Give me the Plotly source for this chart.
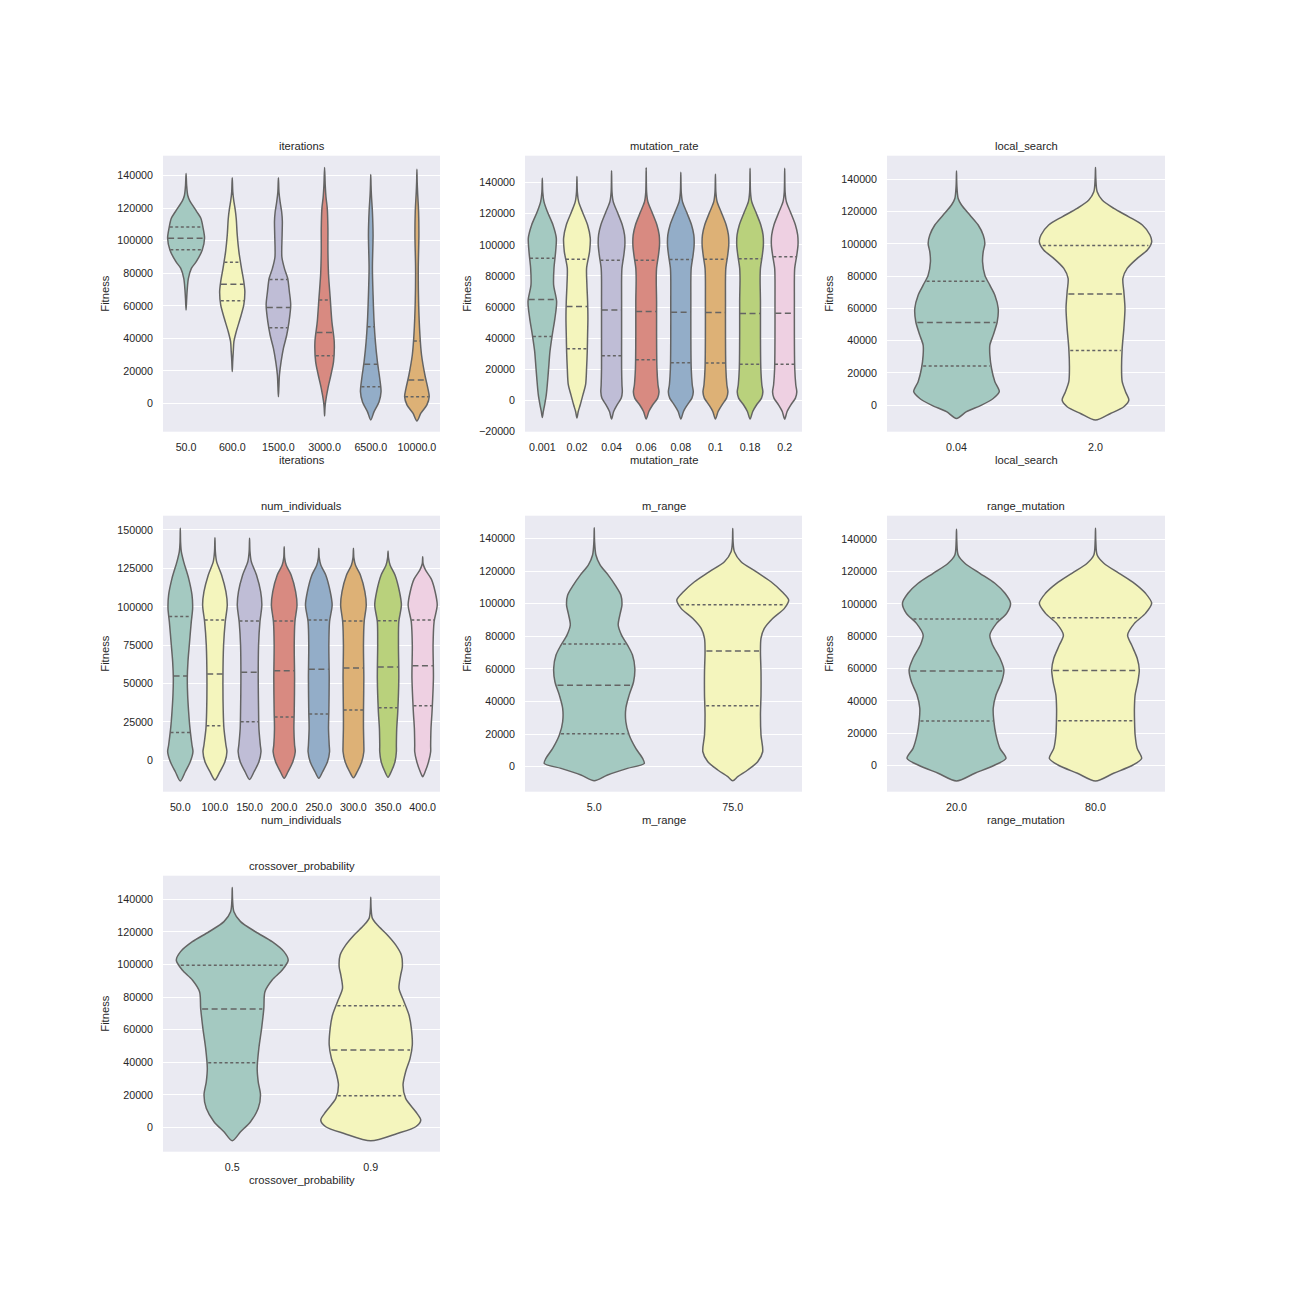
import numpy as np
import plotly.graph_objects as go

PALETTE = ["#a4c9c1", "#f4f5bd", "#bfbdd6", "#d88a81", "#93adc8", "#ddb176", "#b9d17c", "#eed0e2"]
OUTLINE = "#646464"
TEXT = "#262626"

# ---------------- iterations ----------------
ITER_CATS = ["50.0", "600.0", "1500.0", "3000.0", "6500.0", "10000.0"]
ITER_V = [
    [57400, 64000, 70000, 76900, 83000, 87100, 94300, 101500, 107600, 113800, 117500, 121000, 124500, 128000, 134000, 141400],
    [19500, 26000, 31800, 37900, 44000, 52300, 60500, 68700, 74800, 83000, 93300, 103500, 113700, 119900, 124000, 130000, 138800],
    [4100, 10000, 17400, 25600, 33800, 42000, 50200, 60500, 68700, 76900, 83000, 90000, 103500, 112000, 117800, 124000, 130000, 138800],
    [-7800, -3000, 1000, 9200, 17400, 25600, 37900, 50200, 64600, 78900, 93300, 107600, 119900, 127000, 134200, 145100],
    [-10200, -5100, 1000, 7200, 15400, 25600, 37900, 50200, 66600, 83000, 103500, 117800, 128100, 134000, 140800],
    [-10900, -6100, -1000, 4100, 9200, 17400, 29700, 42000, 62500, 83000, 103500, 117800, 130200, 136000, 143900],
]
ITER_W = [
    [0, 0.012, 0.025, 0.05, 0.115, 0.22, 0.35, 0.40, 0.37, 0.32, 0.24, 0.16, 0.08, 0.035, 0.012, 0],
    [0, 0.01, 0.022, 0.036, 0.086, 0.173, 0.25, 0.273, 0.25, 0.2, 0.144, 0.108, 0.086, 0.06, 0.036, 0.012, 0],
    [0, 0.01, 0.022, 0.058, 0.108, 0.18, 0.23, 0.266, 0.237, 0.2, 0.13, 0.075, 0.08, 0.085, 0.07, 0.036, 0.012, 0],
    [0, 0.008, 0.022, 0.072, 0.137, 0.194, 0.209, 0.158, 0.122, 0.086, 0.072, 0.072, 0.058, 0.03, 0.014, 0],
    [0, 0.072, 0.18, 0.223, 0.194, 0.144, 0.1, 0.072, 0.05, 0.036, 0.05, 0.036, 0.014, 0.006, 0],
    [0, 0.086, 0.216, 0.266, 0.237, 0.173, 0.1, 0.065, 0.036, 0.029, 0.043, 0.036, 0.014, 0.006, 0],
]
ITER_Q = [[94500, 101500, 108500], [63100, 73200, 86700], [46500, 59000, 76200],
          [29300, 43500, 63500], [10200, 24000, 47100], [4100, 14300, 38300]]
ITER_YRANGE = [-17470, 152300]
ITER_YTICKS = [0, 20000, 40000, 60000, 80000, 100000, 120000, 140000]

# ---------------- mutation_rate ----------------
MUT_CATS = ["0.001", "0.02", "0.04", "0.06", "0.08", "0.1", "0.18", "0.2"]
MUT_V = [
    [-10900, -7100, -2800, 3600, 10100, 20800, 31500, 42200, 52900, 63600, 74300, 85000, 95700, 104300, 112800, 121400, 127800, 134000, 142800],
    [-11300, -7100, -2800, 3600, 10100, 20800, 31500, 42200, 52900, 63600, 74300, 85000, 95700, 104300, 112800, 121400, 127800, 134000, 143900],
    [-12000, -7100, -2800, 1500, 5500, 10100, 20800, 42200, 63600, 78000, 85000, 93500, 100000, 106400, 112800, 121400, 127800, 134000, 147700],
    [-12000, -7100, -2800, 1500, 5500, 10100, 20800, 42200, 63600, 78000, 85000, 93500, 100000, 106400, 112800, 121400, 127800, 134000, 149600],
    [-12000, -7100, -2800, 1500, 5500, 10100, 20800, 42200, 63600, 78000, 85000, 93500, 100000, 106400, 112800, 121400, 127800, 134000, 146600],
    [-12000, -7100, -2800, 1500, 5500, 10100, 20800, 42200, 63600, 78000, 85000, 93500, 100000, 106400, 112800, 121400, 127800, 134000, 145400],
    [-12000, -7100, -2800, 1500, 5500, 10100, 20800, 42200, 63600, 78000, 85000, 93500, 100000, 106400, 112800, 121400, 127800, 134000, 149200],
    [-12000, -7100, -2800, 1500, 5500, 10100, 20800, 42200, 63600, 78000, 85000, 93500, 100000, 106400, 112800, 121400, 127800, 134000, 149200],
]
MUT_W = [
    [0, 0.029, 0.067, 0.115, 0.144, 0.183, 0.221, 0.288, 0.365, 0.413, 0.327, 0.337, 0.385, 0.404, 0.308, 0.144, 0.048, 0.012, 0],
    [0, 0.038, 0.096, 0.173, 0.25, 0.279, 0.298, 0.308, 0.317, 0.308, 0.288, 0.279, 0.365, 0.385, 0.308, 0.154, 0.048, 0.012, 0],
    [0, 0.06, 0.16, 0.28, 0.31, 0.30, 0.29, 0.29, 0.29, 0.29, 0.30, 0.355, 0.385, 0.375, 0.31, 0.16, 0.048, 0.012, 0],
    [0, 0.077, 0.19, 0.33, 0.37, 0.34, 0.31, 0.30, 0.30, 0.29, 0.30, 0.355, 0.385, 0.375, 0.31, 0.16, 0.048, 0.012, 0],
    [0, 0.077, 0.19, 0.32, 0.36, 0.33, 0.30, 0.29, 0.29, 0.29, 0.30, 0.355, 0.385, 0.375, 0.31, 0.16, 0.048, 0.012, 0],
    [0, 0.077, 0.19, 0.32, 0.36, 0.33, 0.30, 0.29, 0.29, 0.29, 0.30, 0.355, 0.385, 0.375, 0.31, 0.16, 0.048, 0.012, 0],
    [0, 0.077, 0.19, 0.33, 0.37, 0.34, 0.31, 0.30, 0.30, 0.29, 0.30, 0.355, 0.385, 0.375, 0.31, 0.16, 0.048, 0.012, 0],
    [0, 0.07, 0.18, 0.31, 0.35, 0.32, 0.29, 0.28, 0.28, 0.28, 0.29, 0.35, 0.385, 0.375, 0.31, 0.16, 0.048, 0.012, 0],
]
MUT_Q = [[41100, 64900, 91400], [33200, 60400, 90800], [28700, 58200, 90100], [26100, 57200, 90100],
         [24200, 56700, 90600], [24000, 56500, 90800], [23300, 55900, 91000], [23300, 56100, 92300]]
MUT_YRANGE = [-20100, 157300]
MUT_YTICKS = [-20000, 0, 20000, 40000, 60000, 80000, 100000, 120000, 140000]

# ---------------- local_search ----------------
LS_CATS = ["0.04", "2.0"]
LS_V = [
    [-8300, -4100, 0, 4100, 8300, 14500, 22700, 31000, 37200, 43400, 51700, 60000, 68200, 74400, 80600, 88900, 95100, 100300, 105500, 111700, 117900, 124100, 128200, 136500, 145200],
    [-9300, -5200, -1000, 3100, 8300, 14500, 22700, 35200, 47600, 60000, 70300, 78600, 84800, 91000, 96200, 101300, 105500, 111700, 116800, 122000, 127200, 132300, 140600, 147400],
]
LS_W = [
    [0, 0.072, 0.18, 0.264, 0.308, 0.276, 0.252, 0.24, 0.24, 0.264, 0.293, 0.30, 0.276, 0.24, 0.204, 0.1875, 0.192, 0.204, 0.192, 0.156, 0.096, 0.036, 0.012, 0.0024, 0],
    [0, 0.108, 0.204, 0.24, 0.216, 0.192, 0.1875, 0.192, 0.204, 0.212, 0.204, 0.197, 0.228, 0.30, 0.373, 0.404, 0.392, 0.337, 0.24, 0.132, 0.048, 0.012, 0.0024, 0],
]
LS_Q = [[24200, 51300, 76900], [33900, 68900, 99000]]
LS_YRANGE = [-16500, 154700]
LS_YTICKS = [0, 20000, 40000, 60000, 80000, 100000, 120000, 140000]

# ---------------- num_individuals ----------------
NI_CATS = ["50.0", "100.0", "150.0", "200.0", "250.0", "300.0", "350.0", "400.0"]
NI_V = [
    [-13500, -7400, -900, 5600, 10000, 20800, 31700, 42500, 53400, 64300, 75100, 90300, 99000, 107700, 118500, 129400, 135900, 142000, 151100],
    [-12800, -7400, -900, 5600, 10000, 20800, 31700, 53400, 75100, 90300, 101100, 109800, 120700, 129400, 136000, 145000],
    [-12400, -7400, -900, 5600, 10000, 20800, 31700, 53400, 75100, 90300, 101100, 109800, 120700, 129400, 136000, 144600],
    [-11700, -7400, -900, 5600, 10000, 20800, 31700, 53400, 75100, 90300, 101100, 109800, 120700, 127000, 132000, 139100],
    [-11700, -7400, -900, 5600, 10000, 20800, 31700, 53400, 75100, 90300, 101100, 109800, 120700, 127000, 132000, 138100],
    [-11300, -7400, -900, 5600, 10000, 20800, 31700, 53400, 75100, 90300, 101100, 109800, 120700, 127000, 132000, 138100],
    [-11000, -7400, -900, 5600, 10000, 20800, 31700, 53400, 75100, 90300, 101100, 109800, 120700, 127000, 132000, 136300],
    [-10600, -7400, -900, 5600, 10000, 20800, 31700, 53400, 75100, 90300, 101100, 109800, 118000, 124000, 128000, 132600],
]
NI_W = [
    [0, 0.144, 0.288, 0.365, 0.337, 0.279, 0.24, 0.212, 0.202, 0.221, 0.26, 0.317, 0.356, 0.337, 0.24, 0.096, 0.029, 0.008, 0],
    [0, 0.144, 0.288, 0.346, 0.317, 0.26, 0.24, 0.231, 0.25, 0.298, 0.356, 0.317, 0.192, 0.048, 0.012, 0],
    [0, 0.13, 0.27, 0.33, 0.31, 0.27, 0.26, 0.25, 0.26, 0.30, 0.355, 0.32, 0.2, 0.05, 0.012, 0],
    [0, 0.11, 0.25, 0.32, 0.30, 0.28, 0.29, 0.30, 0.29, 0.31, 0.37, 0.33, 0.2, 0.06, 0.012, 0],
    [0, 0.11, 0.25, 0.31, 0.30, 0.28, 0.29, 0.30, 0.29, 0.31, 0.385, 0.33, 0.2, 0.06, 0.012, 0],
    [0, 0.11, 0.24, 0.30, 0.30, 0.29, 0.29, 0.30, 0.29, 0.31, 0.37, 0.33, 0.2, 0.06, 0.012, 0],
    [0, 0.09, 0.2, 0.24, 0.24, 0.25, 0.28, 0.31, 0.30, 0.31, 0.385, 0.33, 0.2, 0.06, 0.012, 0],
    [0, 0.07, 0.17, 0.23, 0.23, 0.24, 0.27, 0.31, 0.30, 0.33, 0.42, 0.36, 0.25, 0.08, 0.012, 0],
]
NI_Q = [[18200, 54900, 93600], [22600, 56200, 91400], [25200, 57300, 90700], [28200, 58400, 90700],
        [30200, 59300, 91400], [32800, 60100, 90700], [34300, 60800, 90900], [35600, 61600, 91400]]
NI_YRANGE = [-20400, 159300]
NI_YTICKS = [0, 25000, 50000, 75000, 100000, 125000, 150000]

# ---------------- m_range ----------------
MR_CATS = ["5.0", "75.0"]
MR_V = [
    [-8600, -5100, -1000, 2000, 5100, 11200, 19400, 27600, 35800, 43900, 52100, 60300, 68500, 74600, 80700, 86900, 94000, 99100, 105300, 111400, 117500, 123600, 129800, 138000, 146500],
    [-8600, -6100, -2000, 3100, 9200, 19400, 31700, 43900, 58200, 70500, 78700, 84800, 90900, 97100, 102200, 107300, 113400, 119600, 125700, 131800, 138000, 146100],
]
MR_W = [
    [0, 0.096, 0.24, 0.361, 0.349, 0.30, 0.252, 0.228, 0.228, 0.252, 0.284, 0.293, 0.276, 0.24, 0.197, 0.173, 0.1875, 0.20, 0.192, 0.151, 0.101, 0.043, 0.012, 0.0024, 0],
    [0, 0.036, 0.108, 0.18, 0.216, 0.204, 0.20, 0.204, 0.204, 0.20, 0.204, 0.228, 0.288, 0.373, 0.404, 0.356, 0.276, 0.168, 0.06, 0.012, 0.0024, 0],
]
MR_Q = [[20200, 49900, 75200], [37400, 70900, 99300]]
MR_YRANGE = [-15300, 153900]
MR_YTICKS = [0, 20000, 40000, 60000, 80000, 100000, 120000, 140000]

# ---------------- range_mutation ----------------
RM_CATS = ["20.0", "80.0"]
RM_V = [
    [-9500, -4700, 400, 4500, 10700, 19000, 27200, 35500, 43700, 52000, 59200, 66400, 74600, 80800, 88000, 94200, 100400, 106600, 112800, 119000, 125200, 130300, 138600, 146200],
    [-9500, -4700, 400, 4500, 10700, 19000, 27200, 35500, 43700, 52000, 59200, 66400, 74600, 80800, 88000, 94200, 100400, 106600, 112800, 119000, 125200, 130300, 138600, 146800],
]
RM_W = [
    [0, 0.132, 0.276, 0.356, 0.3125, 0.284, 0.269, 0.264, 0.284, 0.325, 0.341, 0.3125, 0.26, 0.24, 0.288, 0.361, 0.389, 0.349, 0.276, 0.168, 0.06, 0.012, 0.0024, 0],
    [0, 0.13, 0.27, 0.332, 0.30, 0.285, 0.281, 0.28, 0.285, 0.305, 0.315, 0.30, 0.26, 0.231, 0.28, 0.36, 0.404, 0.36, 0.28, 0.17, 0.06, 0.012, 0.0024, 0],
]
RM_Q = [[27600, 58600, 90700], [27800, 58800, 91500]]
RM_YRANGE = [-16100, 154600]
RM_YTICKS = [0, 20000, 40000, 60000, 80000, 100000, 120000, 140000]

# ---------------- crossover_probability ----------------
CP_CATS = ["0.5", "0.9"]
CP_V = [
    [-8200, -2700, 3500, 11700, 19900, 28000, 36200, 48500, 60800, 73100, 83300, 90500, 96600, 102700, 107900, 114000, 120100, 126300, 132400, 139600, 147200],
    [-8200, -3700, 400, 4500, 9600, 17800, 26000, 34200, 42400, 50600, 60800, 69000, 77200, 85300, 93500, 98600, 105800, 112000, 118100, 124200, 128300, 134500, 141200],
]
CP_W = [
    [0, 0.06, 0.132, 0.1875, 0.204, 0.1875, 0.18, 0.192, 0.212, 0.228, 0.236, 0.288, 0.361, 0.404, 0.373, 0.288, 0.168, 0.06, 0.012, 0.0024, 0],
    [0, 0.192, 0.325, 0.361, 0.325, 0.252, 0.233, 0.252, 0.284, 0.30, 0.293, 0.276, 0.24, 0.204, 0.216, 0.228, 0.221, 0.18, 0.12, 0.048, 0.012, 0.0024, 0],
]
CP_Q = [[39700, 72700, 99500], [19400, 47500, 74700]]
CP_YRANGE = [-14900, 154500]
CP_YTICKS = [0, 20000, 40000, 60000, 80000, 100000, 120000, 140000]

PANELS = [
    ("iterations", ITER_CATS, ITER_V, ITER_W, ITER_Q, ITER_YRANGE, ITER_YTICKS),
    ("mutation_rate", MUT_CATS, MUT_V, MUT_W, MUT_Q, MUT_YRANGE, MUT_YTICKS),
    ("local_search", LS_CATS, LS_V, LS_W, LS_Q, LS_YRANGE, LS_YTICKS),
    ("num_individuals", NI_CATS, NI_V, NI_W, NI_Q, NI_YRANGE, NI_YTICKS),
    ("m_range", MR_CATS, MR_V, MR_W, MR_Q, MR_YRANGE, MR_YTICKS),
    ("range_mutation", RM_CATS, RM_V, RM_W, RM_Q, RM_YRANGE, RM_YTICKS),
    ("crossover_probability", CP_CATS, CP_V, CP_W, CP_Q, CP_YRANGE, CP_YTICKS),
]

# ---------------- layout geometry (pixels) ----------------
W = H = 1296
XDOM = [(163, 440), (525, 802), (887, 1165)]
YDOM = [(155.7, 431.7), (515.7, 791.7), (875.7, 1151.7)]
FS = 10.7

fig = go.Figure()
layout = dict(
    width=W, height=H, margin=dict(l=0, r=0, t=0, b=0, autoexpand=False),
    paper_bgcolor="white", plot_bgcolor="#EAEAF2",
    font=dict(family="Liberation Sans, Arial, sans-serif", size=FS, color=TEXT),
    showlegend=False,
)
annotations = []

for i, (title, cats, vs, ws, qs, yr, yt) in enumerate(PANELS):
    col, row = i % 3, i // 3
    n = i + 1
    xa = "x" if n == 1 else f"x{n}"
    ya = "y" if n == 1 else f"y{n}"
    x0, x1 = XDOM[col]
    yt0, yb0 = YDOM[row]

    for k, (v, w) in enumerate(zip(vs, ws)):
        v = np.asarray(v, float)
        w = np.asarray(w, float)
        xs = np.concatenate([k + w, (k - w)[::-1][1:]])
        ys = np.concatenate([v, v[::-1][1:]])
        fig.add_trace(go.Scatter(
            x=xs, y=ys, mode="lines", fill="toself",
            fillcolor=PALETTE[k % len(PALETTE)],
            line=dict(color=OUTLINE, width=1.5, shape="spline", smoothing=0.8),
            xaxis=xa, yaxis=ya, hoverinfo="skip", showlegend=False))
        for j, q in enumerate(qs[k]):
            hw = float(np.interp(q, v, w)) - 0.01
            fig.add_trace(go.Scatter(
                x=[k - hw, k + hw], y=[q, q], mode="lines",
                line=dict(color=OUTLINE, width=1.5,
                          dash="6px,3.5px" if j == 1 else "3px,2.5px"),
                xaxis=xa, yaxis=ya, hoverinfo="skip", showlegend=False))

    xkey = "xaxis" if n == 1 else f"xaxis{n}"
    ykey = "yaxis" if n == 1 else f"yaxis{n}"
    layout[xkey] = dict(
        domain=[x0 / W, x1 / W], anchor=ya, range=[-0.5, len(cats) - 0.5],
        tickmode="array", tickvals=list(range(len(cats))), ticktext=cats,
        showgrid=False, zeroline=False, showline=False, ticks="", automargin=False,
        ticklabelstandoff=8, tickfont=dict(size=FS, color=TEXT), fixedrange=True)
    layout[ykey] = dict(
        domain=[1 - yb0 / H, 1 - yt0 / H], anchor=xa, range=yr,
        tickmode="array", tickvals=yt, ticktext=[str(t).replace("-", "\u2212") for t in yt],
        showgrid=True, gridcolor="white", gridwidth=1, zeroline=False, showline=False,
        ticks="", ticklabelstandoff=9, automargin=False,
        tickfont=dict(size=FS, color=TEXT), fixedrange=True)

    xc = (x0 + x1) / 2
    annotations.append(dict(text=title, x=xc / W, y=1 - (yt0 - 10) / H, xref="paper", yref="paper",
                            xanchor="center", yanchor="middle", showarrow=False,
                            font=dict(size=11.2, color=TEXT)))
    annotations.append(dict(text=title, x=xc / W, y=1 - (yb0 + 28.5) / H, xref="paper", yref="paper",
                            xanchor="center", yanchor="middle", showarrow=False,
                            font=dict(size=11.2, color=TEXT)))
    annotations.append(dict(text="Fitness", x=(x0 - 58) / W, y=1 - ((yt0 + yb0) / 2) / H,
                            xref="paper", yref="paper", xanchor="center", yanchor="middle",
                            textangle=-90, showarrow=False, font=dict(size=11.2, color=TEXT)))

layout["annotations"] = annotations
fig.update_layout(**layout)
fig.write_html("out.html")
